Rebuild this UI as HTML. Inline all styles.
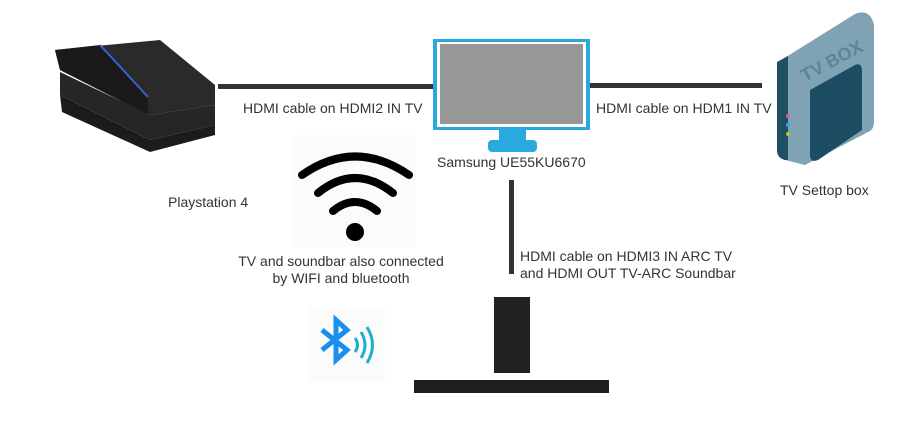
<!DOCTYPE html>
<html><head><style>
body{margin:0;width:921px;height:432px;background:#fff;position:relative;overflow:hidden;font-family:"Liberation Sans",sans-serif;color:#333;font-size:14px}
.t{position:absolute;white-space:nowrap}
</style></head><body>
<svg width="921" height="432" style="position:absolute;left:0;top:0">
<rect x="218" y="84" width="216" height="5" fill="#333"/>
<rect x="590" y="83" width="172" height="5" fill="#333"/>
<rect x="509" y="180" width="5" height="94" fill="#333"/>
<polygon points="55,50 160,40 215,85 215,105 150,115 60,70" fill="#2a2a2a"/>
<polygon points="55,50 100,45 148,98 148,115 60,70" fill="#1a1a1a"/>
<line x1="100" y1="45" x2="148" y2="97" stroke="#3a5fd0" stroke-width="2"/>
<polygon points="60,72 150,115 215,105 215,125 150,140 60,95" fill="#262626"/>
<polygon points="60,95 150,140 215,125 215,135 150,152 62,112" fill="#1c1c1c"/>
<rect x="433" y="39" width="157" height="91" fill="#2aa9e0"/>
<rect x="437" y="42" width="149" height="85" fill="#fff"/>
<rect x="440" y="44" width="143" height="80" fill="#979797"/>
<rect x="499" y="130" width="27" height="12" fill="#2aa9e0"/>
<rect x="488" y="140" width="49" height="12" rx="4" fill="#2aa9e0"/>
<path d="M778,62 L855,14 Q870,8 874,25 L874,122 Q874,130 868,132 L805,165 L785,160 Q777,158 777,150 Z" fill="#7fa3b4"/>
<path d="M777,62 L788,56 L788,160 L785,160 Q777,158 777,150 Z" fill="#1f4f63"/>
<path d="M810,90 L855,65 Q862,62 862,72 L862,130 L818,160 Q810,163 810,155 Z" fill="#1d4d62"/>
<text x="805" y="82" font-size="18" font-weight="bold" fill="#5c8598" transform="rotate(-28 805 82)" font-family="Liberation Sans">TV BOX</text>
<circle cx="788" cy="116" r="2" fill="#e05aa0"/><circle cx="788" cy="125" r="2" fill="#3aa0e0"/><circle cx="788" cy="134" r="2" fill="#c8c030"/>
<rect x="293" y="135" width="123" height="112" fill="#fbfbfb"/>
<g fill="none" stroke="#000" stroke-width="8" stroke-linecap="round">
<path d="M302,175 Q355,138 409,175"/>
<path d="M318,193 Q355,163 393,193"/>
<path d="M333,211 Q355,193 377,211"/>
</g>
<circle cx="355" cy="232" r="9" fill="#000"/>
<rect x="308" y="307" width="77" height="75" fill="#fbfbfb"/>
<path d="M322,330 L347,350 L336,360 L336,320 L347,330 L322,350" fill="none" stroke="#1a8ff0" stroke-width="5"/>
<g fill="none" stroke="#1ab0c8" stroke-width="3">
<path d="M355,338 Q360,345 355,352"/><path d="M361,332 Q369,345 361,358"/><path d="M367,327 Q378,345 367,363"/>
</g>
<rect x="494" y="297" width="36" height="76" fill="#222"/>
<rect x="414" y="380" width="195" height="13" fill="#1e1e1e"/>
</svg>
<div class="t" style="left:243px;top:100px">HDMI cable on HDMI2 IN TV</div>
<div class="t" style="left:596px;top:100px">HDMI cable on HDM1 IN TV</div>
<div class="t" style="left:437px;top:154px">Samsung UE55KU6670</div>
<div class="t" style="left:780px;top:182px">TV Settop box</div>
<div class="t" style="left:168px;top:194px">Playstation 4</div>
<div class="t" style="left:231px;top:253px;width:220px;text-align:center;line-height:17px">TV and soundbar also connected<br>by WIFI and bluetooth</div>
<div class="t" style="left:520px;top:248px;line-height:17px">HDMI cable on HDMI3 IN ARC TV<br>and HDMI OUT TV-ARC Soundbar</div>
</body></html>
